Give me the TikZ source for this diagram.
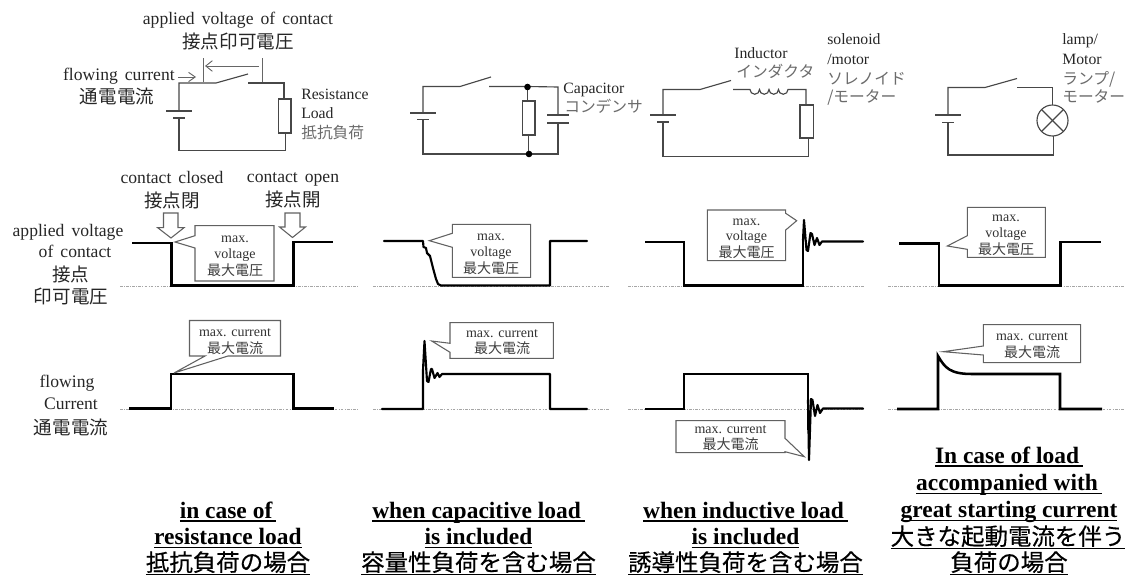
\documentclass[tikz,border=0pt]{standalone}
\usepackage{fontspec}
\setmainfont{Liberation Serif}
\newfontfamily\enw[WordSpace=1.6]{Liberation Serif}
\newfontfamily\cjk{Noto Sans CJK JP}
\newfontfamily\cjkb[FakeBold=0.35]{Noto Sans CJK JP}
\usetikzlibrary{arrows.meta}
\tikzset{
  wire/.style={draw=black!72,line width=0.85pt,line join=miter},
  thinbar/.style={draw=black!60,line width=0.7pt},
  wave/.style={draw=black,line width=1.9pt,line join=miter},
  ring/.style={draw=black,line width=1.6pt,line join=round,line cap=round},
  base/.style={draw=black!35,line width=0.6pt,dash pattern=on 2pt off 1pt on .6pt off 1pt},
  bubble/.style={draw=black!62,fill=white,line width=0.8pt},
  blockarrow/.style={draw=black!62,fill=white,line width=0.8pt},
  dot/.style={fill=black,draw=none},
  lbl/.style={inner sep=0pt,anchor=base,text=black!85},
  lblL/.style={inner sep=0pt,anchor=base west,text=black!85},
  en/.style={font=\fontsize{13.2}{15}\enw},
  jp/.style={font=\fontsize{13.9}{16}\cjk},
  ensm/.style={font=\fontsize{11.8}{14}\selectfont},
  jpg/.style={font=\fontsize{11.8}{14}\cjk,text=black!58},
  bubt/.style={inner sep=0pt,anchor=base,text=black!80,font=\fontsize{10.5}{12}\selectfont},
  bubj/.style={inner sep=0pt,anchor=base,text=black!75,font=\fontsize{10.5}{12}\cjk},
  ttl/.style={inner sep=0pt,anchor=base,text=black,font=\fontsize{17.6}{20}\selectfont\bfseries},
  ttlj/.style={inner sep=0pt,anchor=base,text=black,font=\fontsize{17.6}{20}\cjkb},
}
\newcommand{\batt}[3]{%
  \draw[wire] (#1-13,#2) -- (#1+13,#2);
  \draw[wire] (#1-6,#3) -- (#1+6,#3);
}
\newcommand{\ulen}[1]{\setbox0\hbox{#1}\rlap{\copy0}\rule[-2.7pt]{\wd0}{1pt}}
\newcommand{\uljp}[1]{\setbox0\hbox{#1}\rlap{\copy0}\rule[-3.1pt]{\wd0}{1pt}}
\begin{document}
\begin{tikzpicture}[x=0.75pt,y=-0.75pt]
\useasboundingbox (0,0) rectangle (1125,578);
% ---------- circuit 1
\draw[wire] (179,111) -- (179,83) -- (216,83) -- (248,74);
\draw[wire] (248,83) -- (284,83) -- (284,99);
\draw[wire] (278.5,99) rectangle (291,133);
\draw[wire] (285.5,133) -- (285.5,150.5) -- (179,150.5) -- (179,118);
\batt{179}{111}{118}
\draw[thinbar] (203,58) -- (203,82);
\draw[thinbar] (262,58) -- (262,82);
\draw[thinbar,-{Straight Barb[length=5pt,width=8pt]}] (259,66) -- (205,66);
\draw[thinbar,-{Straight Barb[length=5pt,width=7pt]}] (178,77) -- (196,77);
\node[lbl,en] (t1a) at (238,25) {applied voltage of contact};
\node[lbl,jp] (t1b) at (238,48) {接点印可電圧};
\node[inner sep=0pt,anchor=base east,text=black!85,en] (t1c) at (175,80) {flowing current};
\node[lbl,jp] (t1d) at (117,103) {通電電流};
\node[lblL,ensm] (t1e) at (301,99) {Resistance};
\node[lblL,ensm] (t1f) at (301,118) {Load};
\node[lblL,jpg] (t1g) at (301,138) {抵抗負荷};
% ---------- circuit 2
\draw[wire] (423,113) -- (423,86.5) -- (460,86.5) -- (491,77);
\draw[wire] (489,86.5) -- (527.5,86.5) -- (558,87) -- (558,115);
\draw[wire] (527.5,87) -- (527.5,101);
\draw[wire] (522.5,101) rectangle (535,135);
\draw[wire] (528.5,135) -- (528.5,154);
\draw[wire] (423,119.5) -- (423,154) -- (558,154) -- (558,123);
\draw[wire] (547,115) -- (569,115);
\draw[wire] (547,123) -- (569,123);
\batt{423}{113}{119.5}
\fill[dot] (527.5,87) circle (3.3);
\fill[dot] (529,154) circle (3.3);
\node[lblL,ensm] (t2a) at (563,93) {Capacitor};
\node[lblL,jpg] (t2b) at (564,112) {コンデンサ};
% ---------- circuit 3
\draw[wire] (663,115) -- (663,89.5) -- (700,89.5) -- (731,80.5);
\draw[wire] (733,89.5) -- (750,89.5)
  arc[start angle=180,end angle=0,radius=4.75]
  arc[start angle=180,end angle=0,radius=4.75]
  arc[start angle=180,end angle=0,radius=4.75]
  arc[start angle=180,end angle=0,radius=4.75]
  -- (806,89.5) -- (806,105);
\draw[wire] (800,105) rectangle (813.5,138);
\draw[wire] (808.7,138) -- (808.7,156.5) -- (663,156.5) -- (663,122);
\batt{663}{115}{122}
\node[lblL,ensm] (t3a) at (734,58) {Inductor};
\node[lblL,jpg] (t3b) at (736,77) {インダクタ};
\node[lblL,ensm] (t3c) at (827,45) {solenoid};
\node[lblL,ensm] (t3d) at (827,64) {/motor};
\node[lblL,jpg] (t3e) at (827,84) {ソレノイド};
\node[lblL,jpg] (t3f) at (827,102) {/モーター};
% ---------- circuit 4
\draw[wire] (948,115) -- (948,87.5) -- (985,87.5) -- (1017,78.5);
\draw[wire] (1017,87.5) -- (1052.5,87.5) -- (1052.5,105);
\draw[wire] (1052.5,120.5) circle (15.5);
\draw[wire] (1041.5,109.5) -- (1063.5,131.5);
\draw[wire] (1063.5,109.5) -- (1041.5,131.5);
\draw[wire] (1053.5,136) -- (1053.5,155) -- (948,155) -- (948,122.5);
\batt{948}{115}{122.5}
\node[lblL,ensm] (t4a) at (1062,45) {lamp/};
\node[lblL,ensm] (t4b) at (1062,64) {Motor};
\node[lblL,jpg] (t4c) at (1062,84) {ランプ/};
\node[lblL,jpg] (t4d) at (1062,102) {モーター};
% ---------- left row labels
\node[lbl,en] (c1) at (172,183) {contact closed};
\node[lbl,jp] (c2) at (172,207) {接点閉};
\node[lbl,en] (c3) at (293,182) {contact open};
\node[lbl,jp] (c4) at (293,206) {接点開};
\node[lbl,en] (r1) at (68,236) {applied voltage};
\node[lbl,en] (r2) at (75,257) {of contact};
\node[lbl,jp] (r3) at (71,281) {接点};
\node[lbl,jp] (r4) at (71,303) {印可電圧};
\node[lbl,en] (r5) at (67,387) {flowing};
\node[lbl,en] (r6) at (71,409) {Current};
\node[lbl,jp] (r7) at (71,434) {通電電流};
% ---------- block arrows
\draw[blockarrow] (163.5,213) -- (178,213) -- (178,227.7) -- (184,227.7) -- (171,238) -- (157.7,227.7) -- (163.5,227.7) -- cycle;
\draw[blockarrow] (285,213) -- (300,213) -- (300,227) -- (305.5,227) -- (292.5,237.5) -- (279.5,227) -- (285,227) -- cycle;
% ---------- baselines
\foreach \y in {286,409}{
  \draw[base] (120,\y) -- (358,\y);
  \draw[base] (373,\y) -- (610,\y);
  \draw[base] (628,\y) -- (865,\y);
  \draw[base] (888,\y) -- (1125,\y);
}
% ---------- waveforms: voltage
\draw[wave] (132,243) -- (171.5,243) -- (171.5,285.5) -- (293.5,285.5) -- (293.5,242) -- (333,242);
\draw[ring] (384,241) -- (423,241) -- (423.5,247) -- (426,248) -- (427,253) -- (430,256) -- (433,268) -- (436,279) -- (438,284) -- (441,285.5) -- (550,285.5) -- (550,241) -- (587,241);
\draw[wave] (645,242) -- (684,242) -- (684,285.5) -- (803,285.5) -- (803,240);
\draw[ring] (803,240) -- (804,220) -- (806.5,250) -- (808,251) -- (810.5,233) -- (812,234) -- (814.5,245) -- (817,238) -- (819.5,245) -- (822,241.5) -- (863,241.5);
\draw[wave] (899,243.5) -- (939,243.5) -- (939,285.5) -- (1060.5,285.5) -- (1060.5,242) -- (1101,242);
% ---------- waveforms: current
\draw[wave] (129,408.5) -- (171,408.5) -- (171,374) -- (293.5,374) -- (293.5,408.5) -- (334,408.5);
\draw[ring] (382,409) -- (423,409) -- (423,370) -- (424.5,341) -- (427,381) -- (428.5,382) -- (431,369) -- (432,369) -- (434.5,378) -- (437.5,373) -- (439.5,377) -- (442,374) -- (550,374) -- (550,409) -- (587,409);
\draw[wave] (645,409) -- (684,409) -- (684,374) -- (808,374) -- (808,430);
\draw[ring] (808,400) -- (809,460) -- (811,399) -- (812.5,400) -- (815,416) -- (817.5,405) -- (820,413) -- (823,408.5) -- (863,408.5);
\draw[wave] (897,409) -- (938,409) -- (938,356) .. controls (945,368) and (950,374) .. (972,374) -- (1060,374) -- (1060,409) -- (1102,409);
% ---------- callouts
\draw[bubble] (195,225.7) -- (274,225.7) -- (274,281) -- (195,281) -- (195,248) -- (175,242) -- (195,235.7) -- cycle;
\node[bubt] (b1a) at (235,242) {max.};
\node[bubt] (b1b) at (235,258.5) {voltage};
\node[bubj] (b1c) at (235,275) {最大電圧};
\draw[bubble] (189.5,320.5) -- (280.5,320.5) -- (280.5,356) -- (228,356) -- (174,373) -- (205,356) -- (189.5,356) -- cycle;
\node[bubt] (b2a) at (235,336) {max. current};
\node[bubj] (b2b) at (235,353) {最大電流};
\draw[bubble] (452.3,224.3) -- (530.7,224.3) -- (530.7,277.3) -- (452.3,277.3) -- (452.3,247.3) -- (429.3,240.7) -- (452.3,233.3) -- cycle;
\node[bubt] (b3a) at (491,240) {max.};
\node[bubt] (b3b) at (491,256) {voltage};
\node[bubj] (b3c) at (491,273) {最大電圧};
\draw[bubble] (450,322.7) -- (553.3,322.7) -- (553.3,358.3) -- (450,358.3) -- (450,352.3) -- (431.7,341) -- (450,343.3) -- cycle;
\node[bubt] (b4a) at (502,337) {max. current};
\node[bubj] (b4b) at (502,353.5) {最大電流};
\draw[bubble] (707.3,210) -- (785.7,210) -- (785.7,213.3) -- (796.7,220.7) -- (785.7,230) -- (785.7,260.7) -- (707.3,260.7) -- cycle;
\node[bubt] (b5a) at (746.5,225) {max.};
\node[bubt] (b5b) at (746.5,240.5) {voltage};
\node[bubj] (b5c) at (746.5,257) {最大電圧};
\draw[bubble] (676,420.7) -- (785,420.7) -- (785,438.3) -- (804.3,456.7) -- (785,451.7) -- (785,452.7) -- (676,452.7) -- cycle;
\node[bubt] (b6a) at (730.5,433) {max. current};
\node[bubj] (b6b) at (730.5,449.5) {最大電流};
\draw[bubble] (967.3,207.3) -- (1045.3,207.3) -- (1045.3,257.3) -- (967.3,257.3) -- (967.3,249.3) -- (947.3,246) -- (967.3,235.7) -- cycle;
\node[bubt] (b7a) at (1006,221) {max.};
\node[bubt] (b7b) at (1006,237) {voltage};
\node[bubj] (b7c) at (1006,254) {最大電圧};
\draw[bubble] (983.3,324.7) -- (1080.7,324.7) -- (1080.7,362.7) -- (983.3,362.7) -- (983.3,355) -- (943.3,351.7) -- (983.3,346) -- cycle;
\node[bubt] (b8a) at (1032,340) {max. current};
\node[bubj] (b8b) at (1032,357) {最大電流};
% ---------- titles
\node[ttl] (a1) at (228,518) {\ulen{in case of\,}};
\node[ttl] (a2) at (228,544.5) {\ulen{resistance load}};
\node[ttlj] (a3) at (228,571) {\uljp{抵抗負荷の場合}};
\node[ttl] (e1) at (478.5,518) {\ulen{when capacitive load\,}};
\node[ttl] (e2) at (478.5,544.5) {\ulen{is included}};
\node[ttlj] (e3) at (478.5,571) {\uljp{容量性負荷を含む場合}};
\node[ttl] (i1) at (745.5,518) {\ulen{when inductive load\,}};
\node[ttl] (i2) at (745.5,544.5) {\ulen{is included}};
\node[ttlj] (i3) at (745.5,571) {\uljp{誘導性負荷を含む場合}};
\node[ttl] (s1) at (1009,463) {\ulen{In case of load\,}};
\node[ttl] (s2) at (1009,490.5) {\ulen{accompanied with\,}};
\node[ttl] (s3) at (1009,517.5) {\ulen{great starting current}};
\node[ttlj] (s4) at (1008,545) {\uljp{大きな起動電流を伴う}};
\node[ttlj] (s5) at (1009,571) {\uljp{負荷の場合}};
\end{tikzpicture}
\end{document}
